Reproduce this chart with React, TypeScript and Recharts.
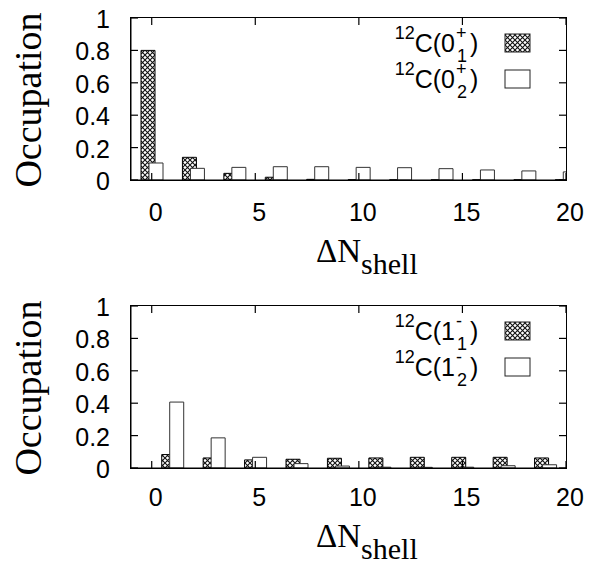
import React from 'react';
import { BarChart, Bar, XAxis, YAxis } from 'recharts';

// top panel: 12C 0+ states
const shellEven = [0, 2, 4, 6, 8, 10, 12, 14, 16, 18, 20];
const occ0p1 = [0.8, 0.14, 0.041, 0.017, 0.004, 0.002, 0.001, 0.001, 0.001, 0.001, 0.001];
const occ0p2 = [0.105, 0.072, 0.078, 0.082, 0.082, 0.078, 0.076, 0.07, 0.062, 0.056, 0.05];

// bottom panel: 12C 1- states
const shellOdd = [1, 3, 5, 7, 9, 11, 13, 15, 17, 19];
const occ1m1 = [0.083, 0.062, 0.05, 0.054, 0.06, 0.062, 0.066, 0.066, 0.066, 0.062];
const occ1m2 = [0.407, 0.186, 0.066, 0.027, 0.012, 0.005, 0.004, 0.005, 0.014, 0.02];

const xTicks = [0, 5, 10, 15, 20];
const yTicks = [0, 0.2, 0.4, 0.6, 0.8, 1];

const topData = shellEven.map((n, i) => ({ n, a: occ0p1[i], b: occ0p2[i] }));
const bottomData = shellOdd.map((n, i) => ({ n, a: occ1m1[i], b: occ1m2[i] }));

const SANS = '"Liberation Sans", Arial, sans-serif';
const SERIF = '"Liberation Serif", "Times New Roman", serif';

// plot box inside each panel
const PL = 131, PR = 566, PT = 18, PB = 180;

const Hatch = ({ id }: { id: string }) => (
  <pattern id={id} width={5} height={5} patternUnits="userSpaceOnUse">
    <rect width={5} height={5} fill="#fff" />
    <path d="M0,0L5,5M5,0L0,5" stroke="#111" strokeWidth={1.1} />
  </pattern>
);

const LegendRow = ({ y, state, sup, sub, hatch }: any) => (
  <g>
    <text x={455} y={y} textAnchor="end" fontFamily={SANS} fontSize={25} fill="#000">
      <tspan fontSize={18} dy={-13}>12</tspan>
      <tspan dy={13}>C({state}</tspan>
    </text>
    <text x={456} y={y - 13} fontFamily={SANS} fontSize={18} fill="#000">{sup}</text>
    <text x={457} y={y + 10} fontFamily={SANS} fontSize={18} fill="#000">{sub}</text>
    <text x={470} y={y} fontFamily={SANS} fontSize={25} fill="#000">)</text>
    <rect x={505} y={y - 18} width={25} height={18} fill={hatch ? `url(#${hatch})` : '#fff'} stroke="#222" strokeWidth={1} />
  </g>
);

const XLabel = ({ lift }: any) => (
  <text x={316} y={262 - lift} fontFamily={SERIF} fontSize={33} fill="#000">
    ΔN<tspan fontSize={30} dy={12}>shell</tspan>
  </text>
);

const YLabel = () => (
  <text transform="translate(41,100) rotate(-90)" textAnchor="middle" fontFamily={SERIF} fontSize={38} fill="#000">
    Occupation
  </text>
);

// inward mirror ticks on all four sides
const TickMarks = () => {
  const sx = (v: number) => PL + ((v + 1) / 21) * (PR - PL);
  const sy = (v: number) => PB - v * (PB - PT);
  return (
    <g stroke="#000" strokeWidth={1.2}>
      {xTicks.map((t) => <line key={'xb' + t} x1={sx(t)} x2={sx(t)} y1={PB} y2={PB - 7} />)}
      {xTicks.map((t) => <line key={'xt' + t} x1={sx(t)} x2={sx(t)} y1={PT} y2={PT + 7} />)}
      {yTicks.map((t) => <line key={'yl' + t} x1={PL} x2={PL + 7} y1={sy(t)} y2={sy(t)} />)}
      {yTicks.map((t) => <line key={'yr' + t} x1={PR} x2={PR - 7} y1={sy(t)} y2={sy(t)} />)}
    </g>
  );
};

const Panel = ({ data, hatch, labels, lift, h }: any) => {
  const renderXTick = (props: any) => (
    <text x={props.x + 4} y={props.y - lift} dy="0.36em" textAnchor="middle" fontFamily={SANS} fontSize={25} fill="#000">
      {props.payload.value}
    </text>
  );
  const renderYTick = (props: any) => (
    <text x={props.x} y={props.y} dy="0.4em" textAnchor="end" fontFamily={SANS} fontSize={25} fill="#000">
      {props.payload.value}
    </text>
  );
  return (
    <div style={{ position: 'relative', width: 610, height: h }}>
      <BarChart width={610} height={h} data={data} margin={{ top: PT, right: 610 - PR, bottom: h - 277, left: 0 }} barSize={14} barGap={-6}>
        <XAxis type="number" dataKey="n" domain={[-1, 20]} ticks={xTicks} allowDataOverflow height={97}
          tickSize={0} tickMargin={32} tick={renderXTick} stroke="#000" tickLine={false} />
        <YAxis type="number" domain={[0, 1]} ticks={yTicks} width={PL} tickSize={0} tickMargin={21}
          tick={renderYTick} stroke="#000" tickLine={false} />
        <Bar dataKey="a" fill={`url(#${hatch})`} stroke="#000" strokeWidth={1} isAnimationActive={false} />
        <Bar dataKey="b" fill="#fff" stroke="#333" strokeWidth={1} isAnimationActive={false} />
      </BarChart>
      {/* plot frame as a plain bordered box */}
      <div
        style={{
          position: 'absolute',
          left: PL - 1,
          top: PT - 1,
          width: PR - PL,
          height: PB - PT,
          border: '1.5px solid #000',
          pointerEvents: 'none',
        }}
      />
      <svg width={610} height={h} style={{ position: 'absolute', left: 0, top: 0, pointerEvents: 'none' }}>
        <TickMarks />
        <XLabel lift={lift} />
        <YLabel />
        <LegendRow y={52} state={labels.state} sup={labels.sup} sub="1" hatch={hatch} />
        <LegendRow y={88} state={labels.state} sup={labels.sup} sub="2" />
      </svg>
    </div>
  );
};

export default function App() {
  return (
    <div style={{ position: 'absolute', left: 0, top: 0, width: 610, height: 565, background: '#fff', overflow: 'hidden' }}>
      <svg width={0} height={0} style={{ position: 'absolute' }}>
        <defs>
          <Hatch id="hatchMain" />
        </defs>
      </svg>
      <div style={{ position: 'absolute', left: 0, top: 0 }}>
        <Panel data={topData} hatch="hatchMain" labels={{ state: '0', sup: '+' }} lift={0} h={282} />
      </div>
      <div style={{ position: 'absolute', left: 0, top: 288 }}>
        <Panel data={bottomData} hatch="hatchMain" labels={{ state: '1', sup: '-' }} lift={3} h={277} />
      </div>
    </div>
  );
}
